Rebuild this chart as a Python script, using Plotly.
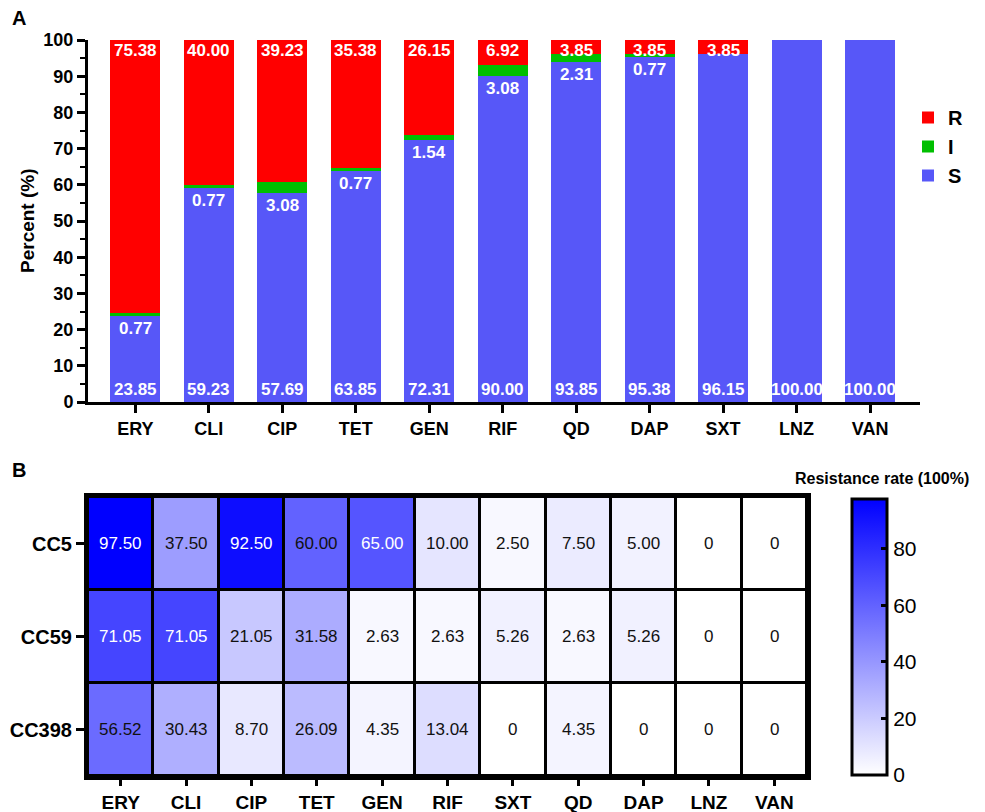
import plotly.graph_objects as go

# ---------------- Data ----------------
drugs_a = ["ERY", "CLI", "CIP", "TET", "GEN", "RIF", "QD", "DAP", "SXT", "LNZ", "VAN"]
S_vals = [23.85, 59.23, 57.69, 63.85, 72.31, 90.00, 93.85, 95.38, 96.15, 100.00, 100.00]
I_vals = [0.77, 0.77, 3.08, 0.77, 1.54, 3.08, 2.31, 0.77, 0, 0, 0]
R_vals = [75.38, 40.00, 39.23, 35.38, 26.15, 6.92, 3.85, 3.85, 3.85, 0, 0]

drugs_b = ["ERY", "CLI", "CIP", "TET", "GEN", "RIF", "SXT", "QD", "DAP", "LNZ", "VAN"]
clones = ["CC5", "CC59", "CC398"]
CC5 = [97.50, 37.50, 92.50, 60.00, 65.00, 10.00, 2.50, 7.50, 5.00, 0, 0]
CC59 = [71.05, 71.05, 21.05, 31.58, 2.63, 2.63, 5.26, 2.63, 5.26, 0, 0]
CC398 = [56.52, 30.43, 8.70, 26.09, 4.35, 13.04, 0, 4.35, 0, 0, 0]
heat = [CC5, CC59, CC398]

FONT = "Liberation Sans, Arial, sans-serif"
W, H = 985, 812
BLUE = "#5757F8"
RED = "#FF0000"
GREEN = "#00BF00"

fig = go.Figure()

# ---------------- Panel A: stacked bars ----------------
fig.add_trace(go.Bar(x=drugs_a, y=S_vals, name="S", marker=dict(color=BLUE, line=dict(width=0)),
                     width=0.68, xaxis="x", yaxis="y"))
fig.add_trace(go.Bar(x=drugs_a, y=I_vals, name="I", marker=dict(color=GREEN, line=dict(width=0)),
                     width=0.68, xaxis="x", yaxis="y"))
fig.add_trace(go.Bar(x=drugs_a, y=R_vals, name="R", marker=dict(color=RED, line=dict(width=0)),
                     width=0.68, xaxis="x", yaxis="y"))

annotations = []
lab_font = dict(family=FONT, size=17, color="white", weight="bold")
for d, s, i, r in zip(drugs_a, S_vals, I_vals, R_vals):
    annotations.append(dict(x=d, y=0, xref="x", yref="y", text=f"{s:.2f}", showarrow=False,
                            yanchor="bottom", yshift=1, font=lab_font))
    if r > 0:
        annotations.append(dict(x=d, y=100, xref="x", yref="y", text=f"{r:.2f}", showarrow=False,
                                yanchor="top", yshift=1, font=lab_font))
    if i > 0:
        annotations.append(dict(x=d, y=s, xref="x", yref="y", text=f"{i:.2f}", showarrow=False,
                                yanchor="top", yshift=-1, font=lab_font))

# ---------------- Panel B: heatmap ----------------
fig.add_trace(go.Heatmap(
    z=heat, x=drugs_b, y=clones, xaxis="x2", yaxis="y2",
    colorscale=[[0, "#FFFFFF"], [1, "#0000FF"]], zmin=0, zmax=97.5,
    xgap=3, ygap=3, showscale=True,
    colorbar=dict(
        x=852 / W, xanchor="left", y=1 - 637 / H, yanchor="middle",
        len=276 / H, lenmode="fraction", thickness=35, thicknessmode="pixels",
        outlinewidth=3, outlinecolor="black", xpad=0, ypad=0,
        ticks="inside", ticklen=7, tickwidth=3, tickcolor="black",
        tickvals=[0, 20, 40, 60, 80], tickfont=dict(family=FONT, size=21, color="black"),
    ),
    hoverinfo="skip",
))

for row, clone in zip(heat, clones):
    for d, v in zip(drugs_b, row):
        txt = "0" if v == 0 else f"{v:.2f}"
        col = "white" if v > 62 else "#111111"
        annotations.append(dict(x=d, y=clone, xref="x2", yref="y2", text=txt, showarrow=False,
                                font=dict(family=FONT, size=17, color=col)))

# Panel labels, titles
annotations.append(dict(x=10 / W, y=1 - 18 / H, xref="paper", yref="paper", text="<b>A</b>",
                        showarrow=False, xanchor="left", yanchor="middle",
                        font=dict(family=FONT, size=20, color="black")))
annotations.append(dict(x=10 / W, y=1 - 470 / H, xref="paper", yref="paper", text="<b>B</b>",
                        showarrow=False, xanchor="left", yanchor="middle",
                        font=dict(family=FONT, size=20, color="black")))
annotations.append(dict(x=27 / W, y=1 - 221 / H, xref="paper", yref="paper", text="<b>Percent (%)</b>",
                        showarrow=False, textangle=-90, xanchor="center", yanchor="middle",
                        font=dict(family=FONT, size=19, color="black")))
annotations.append(dict(x=882 / W, y=1 - 478 / H, xref="paper", yref="paper",
                        text="<b>Resistance rate (100%)</b>", showarrow=False,
                        xanchor="center", yanchor="middle",
                        font=dict(family=FONT, size=16, color="black")))

shapes = [dict(type="rect", xref="x2 domain", yref="y2 domain", x0=0, x1=1, y0=0, y1=1,
               fillcolor="black", line=dict(width=0), layer="below")]

tick_bold = dict(family=FONT, size=18, color="black", weight="bold")

fig.update_layout(
    width=W, height=H,
    margin=dict(l=0, r=0, t=0, b=0, autoexpand=False),
    paper_bgcolor="white", plot_bgcolor="white",
    barmode="stack",
    font=dict(family=FONT, color="black"),
    showlegend=True,
    legend=dict(x=908 / W, y=1 - 98 / H, xanchor="left", yanchor="top",
                traceorder="reversed", font=dict(family=FONT, size=20, color="black", weight="bold"),
                bgcolor="rgba(0,0,0,0)", itemwidth=30, tracegroupgap=0),
    xaxis=dict(domain=[88 / W, 920 / W], anchor="y", type="category", automargin=False,
               categoryorder="array", categoryarray=drugs_a,
               range=[-0.644, 10.68], showline=True, linecolor="black", linewidth=3,
               ticks="outside", ticklen=8, tickwidth=3, tickcolor="black",
               tickfont=tick_bold, showgrid=False, zeroline=False, fixedrange=True),
    yaxis=dict(domain=[1 - 402 / H, 1 - 40 / H], anchor="x", range=[0, 100], automargin=False,
               tickvals=list(range(0, 101, 10)), showline=True, linecolor="black", linewidth=3,
               ticks="outside", ticklen=8, tickwidth=2.5, tickcolor="black",
               minor=dict(dtick=5, ticks="outside", ticklen=5, tickwidth=2, tickcolor="black", showgrid=False),
               tickfont=tick_bold, showgrid=False, zeroline=False, fixedrange=True),
    xaxis2=dict(domain=[88 / W, 807 / W], anchor="y2", type="category", automargin=False,
                categoryorder="array", categoryarray=drugs_b,
                showline=True, mirror=True, linecolor="black", linewidth=4,
                ticks="outside", ticklen=6, tickwidth=3, tickcolor="black",
                tickfont=dict(family=FONT, size=19, color="black", weight="bold"),
                showgrid=False, zeroline=False, fixedrange=True),
    yaxis2=dict(domain=[1 - 776 / H, 1 - 497 / H], anchor="x2", type="category", automargin=False,
                categoryorder="array", categoryarray=clones, autorange="reversed",
                showline=True, mirror=True, linecolor="black", linewidth=4,
                ticks="outside", ticklen=8, tickwidth=3, tickcolor="black",
                tickfont=dict(family=FONT, size=20, color="black", weight="bold"),
                showgrid=False, zeroline=False, fixedrange=True),
    annotations=annotations,
    shapes=shapes,
)

fig.write_html("out.html")
